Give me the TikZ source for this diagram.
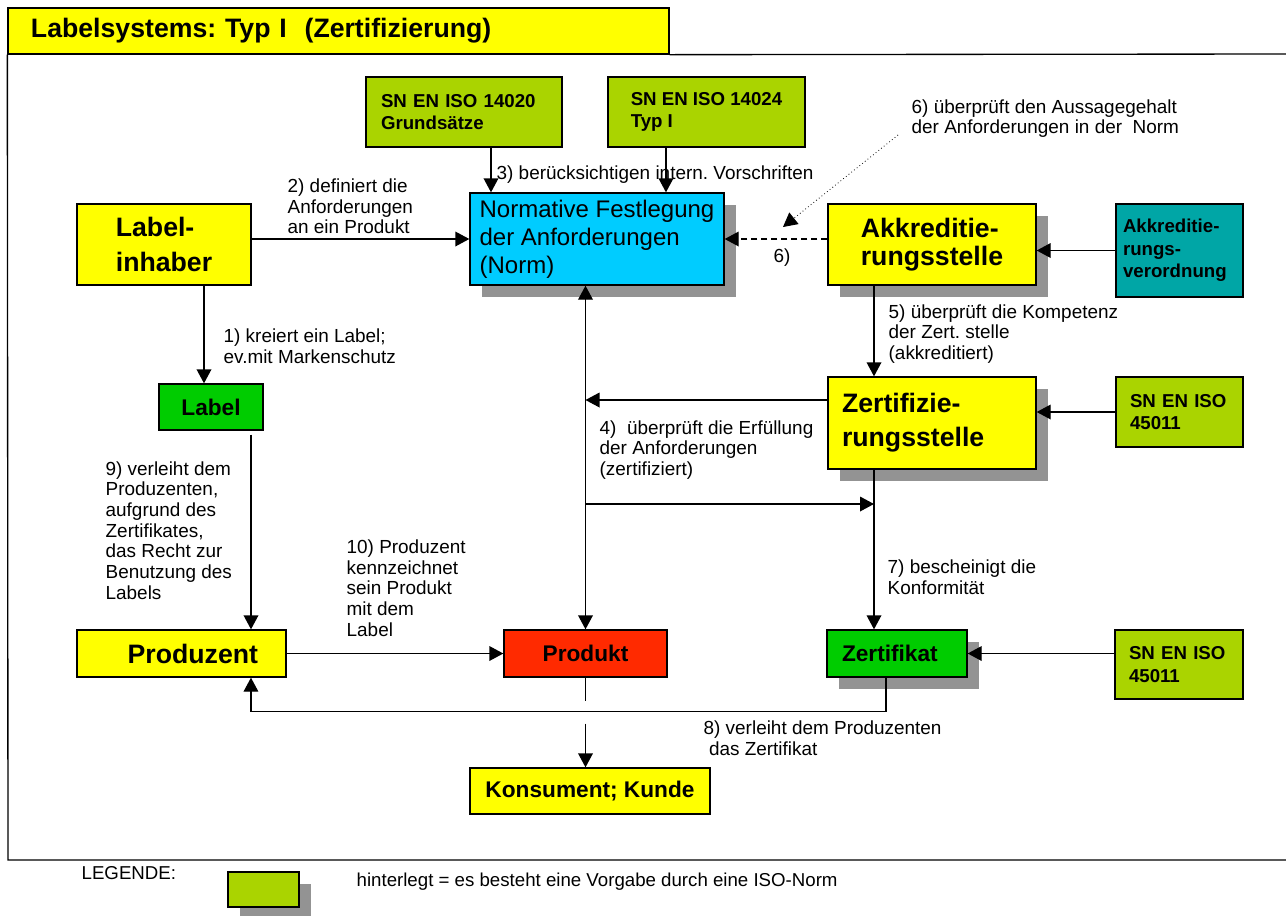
\documentclass[tikz,border=0pt]{standalone}
\usepackage{fontspec}
\setmainfont{Liberation Sans}
\usetikzlibrary{arrows.meta,shadows}
\definecolor{gelb}{RGB}{255,255,0}
\definecolor{cyan}{RGB}{0,204,255}
\definecolor{lime}{RGB}{170,212,0}
\definecolor{petrol}{RGB}{0,166,166}
\definecolor{gruen}{RGB}{0,204,0}
\definecolor{rot}{RGB}{255,42,0}
\definecolor{grau}{RGB}{147,147,147}

\begin{document}
\frenchspacing
\begin{tikzpicture}[x=0.75pt,y=-0.75pt,line width=1pt,>={Triangle[length=10.5pt,width=11pt]},
    kasten/.style={draw,rectangle,inner sep=0pt,align=left},
    stelle/.style={kasten,fill=gelb,font=\bfseries\fontsize{20}{26}\selectfont},
    iso/.style={kasten,fill=lime,font=\bfseries\fontsize{14}{17}\selectfont},
    fix/.style={kasten,font=\bfseries\fontsize{17}{20}\selectfont,minimum height=35.25pt},
    schatten/.style={drop shadow={shadow xshift=9pt,shadow yshift=-9pt,fill=grau,opacity=1}},
    txt/.style={anchor=west,inner sep=0pt,align=left,font=\fontsize{14.2}{15.5}\selectfont}]
    \useasboundingbox (0,0) rectangle (1286,915);

    \node[kasten,fill=gelb,font=\bfseries\fontsize{20}{24}\selectfont,minimum width=495.75pt,minimum height=34.5pt,inner xsep=17.25pt,text width=461.25pt] (tit) at (338.5,31) {Labelsystems: Typ I\ \ (Zertifizierung)};
    \draw (tit.south east) -- (1286,54);
    \draw (tit.south west) -- (8,860) -- (1286,860);

    \node[iso,minimum width=147pt,minimum height=52.5pt,inner xsep=11.25pt,text width=124.5pt] (iso20) at (464,112) {SN EN ISO 14020\\Grundsätze};
    \node[iso,minimum width=147.75pt,minimum height=52.5pt] (iso24) at (706.5,112) {SN EN ISO 14024\\Typ I};
    \node[kasten,schatten,fill=cyan,font=\fontsize{18}{21}\selectfont,minimum width=190.5pt,minimum height=69pt] (norm) at (597,239) {Normative Festlegung\\der Anforderungen\\(Norm)};
    \node[stelle,minimum width=130.5pt,minimum height=60.75pt] (lin) at (164,244.5) {Label-\\inhaber};
    \node[stelle,schatten,font=\bfseries\fontsize{20}{20.5}\selectfont,minimum width=156pt,minimum height=60.75pt] (akk) at (932,244.5) {Akkreditie-\\rungsstelle};
    \node[iso,fill=petrol,minimum width=95.25pt,minimum height=69.75pt,inner xsep=5.25pt,text width=84.75pt] (akkvo) at (1179.5,250.5) {Akkreditie-\\rungs-\\verordnung};
    \node[stelle,schatten,font=\bfseries\fontsize{20}{25.5}\selectfont,minimum width=156pt,minimum height=69pt,inner xsep=10.5pt,text width=135pt] (zert) at (932,423) {Zertifizie-\\rungsstelle};
    \node[iso,minimum width=95.25pt,minimum height=52.5pt,inner xsep=10.5pt,text width=74.25pt] (isoa) at (1179.5,412) {SN EN ISO\\45011};
    \node[fix,fill=gruen,minimum width=78pt,minimum height=34.5pt] (lbl) at (211,407) {Label};
    \node[fix,fill=gelb,font=\bfseries\fontsize{20}{24}\selectfont,minimum width=156.75pt,align=right,inner xsep=21pt,text width=114.75pt] (prz) at (181.5,653.5) {Produzent};
    \node[fix,fill=rot,minimum width=122.25pt] (prd) at (585.5,653.5) {Produkt};
    \node[fix,schatten,fill=gruen,minimum width=105pt,inner xsep=11.25pt,text width=82.5pt] (zk) at (897,653.5) {Zertifikat};
    \node[iso,minimum width=96pt,minimum height=51.75pt,inner xsep=10.5pt,text width=75pt] (isob) at (1179,664.5) {SN EN ISO\\45011};
    \node[fix,fill=gelb,minimum width=180pt,minimum height=34.5pt] (kon) at (590,791) {Konsument; Kunde};

    \node[txt] (l2) at (287,206.5) {2) definiert die\\Anforderungen\\an ein Produkt};
    \node[txt] (l3) at (496,175) {3) berücksichtigen intern. Vorschriften};
    \node[txt] (l6) at (911,118.5) {6) überprüft den Aussagegehalt\\der Anforderungen in der\ \ Norm};
    \node[txt] (l6k) at (773,258) {6)};
    \node[txt] (l1) at (223,346.5) {1) kreiert ein Label;\\ev.mit Markenschutz};
    \node[txt] (l5) at (888,334) {5) überprüft die Kompetenz\\der Zert. stelle\\(akkreditiert)};
    \node[txt] (l4) at (599,450) {4)\ \ überprüft die Erfüllung\\der Anforderungen\\(zertifiziert)};
    \node[txt] (l9) at (105,530.5) {9) verleiht dem\\Produzenten,\\aufgrund des\\Zertifikates,\\das Recht zur\\Benutzung des\\Labels};
    \node[txt] (l10) at (346,588) {10) Produzent\\kennzeichnet\\sein Produkt\\mit dem\\Label};
    \node[txt] (l7) at (887,577.5) {7) bescheinigt die\\Konformität};
    \node[txt] (l8) at (703,738) {8) verleiht dem Produzenten\\\hspace*{4pt}das Zertifikat};

    \draw[->] ([xshift=20.25pt]iso20.south) -- ([xshift=20.25pt]iso20.south |- norm.north);
    \draw[->] ([xshift=-30.4pt]iso24.south) -- ([xshift=-30.4pt]iso24.south |- norm.north);
    \draw[->] (lin.east |- norm.west) -- (norm.west);
    \draw[->,dash pattern=on 5pt off 2.5pt] (akk.west |- norm.east) -- (norm.east);
    \coordinate (d1) at (898,135);
    \coordinate (d2) at (783,227);
    \draw[->,dotted,line width=0.6pt] (d1) -- (d2);
    \draw[->] (akkvo.west) -- (akkvo.west -| akk.east);
    \draw[->] ([xshift=-43.5pt]akk.south) -- ([xshift=-43.5pt]akk.south |- zert.north);
    \draw[->] (isoa.west) -- (isoa.west -| zert.east);
    \draw[->] ([yshift=17.25pt]zert.west) -- ([yshift=17.25pt]zert.west -| prd.north);
    \draw[<->] (prd.north) -- (prd.north |- norm.south);
    \coordinate (zo) at ([xshift=-43.5pt]zert.south);
    \coordinate (split) at (prd.north |- 0,504);
    \draw[->] (split) -- (split -| zo);
    \draw[->] (zo) -- (zo |- zk.north);
    \draw[->] (isob.west |- zk.east) -- (zk.east);
    \draw[->] ([xshift=30pt]lin.south) -- ([xshift=30pt]lin.south |- lbl.north);
    \draw[->] ([xshift=30pt,yshift=-3pt]lbl.south) -- ([xshift=30pt]lbl.south |- prz.north);
    \draw[->] (prz.east) -- (prd.west);
    \draw[->] ([xshift=-8.25pt]zk.south) -- ++(0,34) -| ([xshift=52.1pt]prz.south);
    \draw (prd.south) -- ++(0,23);
    \draw[->] ([yshift=-34.5pt]prd.south) -- (prd.south |- kon.north);

    \node[txt,font=\fontsize{14}{16}\selectfont] (leg) at (81,873) {LEGENDE:};
    \node[kasten,schatten,fill=lime,minimum width=53.25pt,minimum height=26.25pt] (legbox) at (263.5,889.5) {};
    \node[txt,font=\fontsize{14}{16}\selectfont] (legtxt) at (356,882) {hinterlegt = es besteht eine Vorgabe durch eine ISO-Norm};
\end{tikzpicture}
\end{document}
